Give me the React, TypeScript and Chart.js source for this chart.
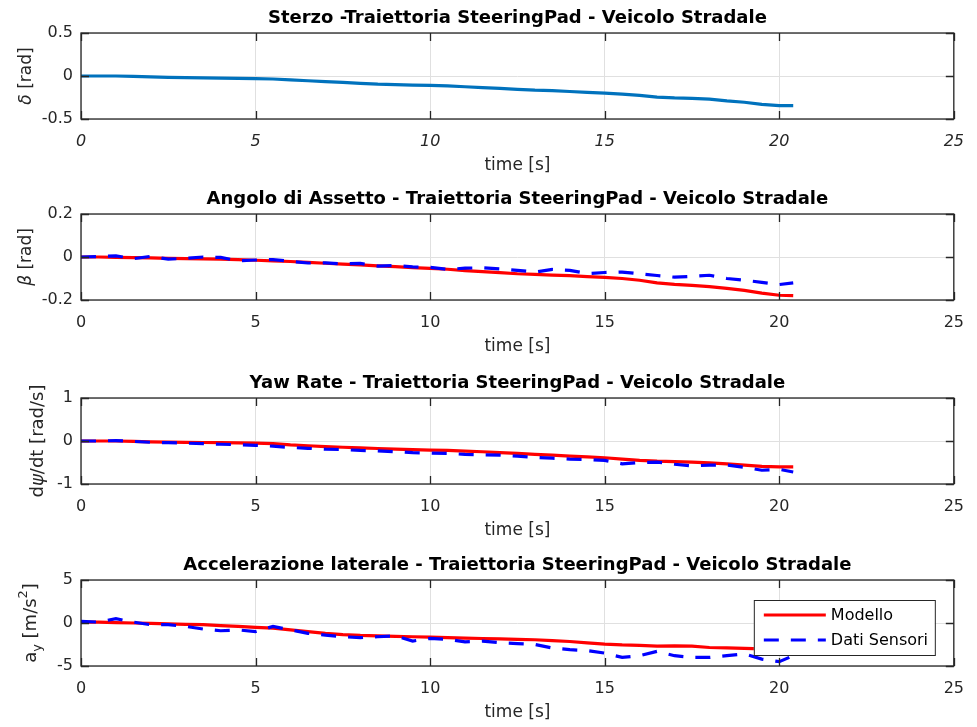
import React, { useEffect, useRef } from "react";
import { Chart, registerables } from "chart.js";

Chart.register(...registerables);

const FONT = "'DejaVu Sans', 'Liberation Sans', sans-serif";

// ---------------- DATA ----------------
const time = [0, 0.5, 1, 1.5, 2, 2.5, 3, 3.5, 4, 4.5, 5, 5.5, 6, 6.5, 7, 7.5, 8, 8.5, 9, 9.5, 10, 10.5, 11, 11.5, 12, 12.5, 13, 13.5, 14, 14.5, 15, 15.5, 16, 16.5, 17, 17.5, 18, 18.5, 19, 19.5, 20, 20.4];

const steer = [0, 0, 0, -0.005, -0.01, -0.015, -0.02, -0.022, -0.025, -0.028, -0.03, -0.035, -0.045, -0.055, -0.065, -0.075, -0.085, -0.095, -0.1, -0.105, -0.11, -0.115, -0.125, -0.135, -0.145, -0.155, -0.165, -0.17, -0.18, -0.19, -0.2, -0.21, -0.225, -0.245, -0.255, -0.26, -0.27, -0.29, -0.305, -0.33, -0.345, -0.345];

const betaModel = [0, 0, -0.002, -0.003, -0.004, -0.006, -0.008, -0.009, -0.01, -0.012, -0.015, -0.018, -0.021, -0.025, -0.029, -0.033, -0.037, -0.041, -0.045, -0.049, -0.053, -0.057, -0.063, -0.068, -0.073, -0.078, -0.081, -0.084, -0.087, -0.091, -0.095, -0.1, -0.108, -0.12, -0.127, -0.132, -0.138, -0.146, -0.155, -0.168, -0.178, -0.18];
const betaSensor = [0, 0.002, 0.005, -0.008, 0.003, -0.01, -0.006, 0, -0.002, -0.018, -0.014, -0.012, -0.02, -0.028, -0.027, -0.032, -0.03, -0.042, -0.04, -0.046, -0.048, -0.058, -0.052, -0.05, -0.055, -0.062, -0.07, -0.058, -0.062, -0.077, -0.072, -0.07, -0.078, -0.086, -0.094, -0.09, -0.085, -0.1, -0.108, -0.118, -0.128, -0.12];

const yawModel = [0, 0, 0, -0.01, -0.02, -0.025, -0.03, -0.035, -0.04, -0.045, -0.05, -0.06, -0.09, -0.11, -0.13, -0.145, -0.16, -0.175, -0.19, -0.2, -0.21, -0.22, -0.235, -0.25, -0.27, -0.29, -0.31, -0.33, -0.35, -0.37, -0.39, -0.42, -0.45, -0.47, -0.48, -0.49, -0.51, -0.53, -0.56, -0.59, -0.6, -0.6];
const yawSensor = [0, 0, 0.01, -0.01, -0.03, -0.04, -0.05, -0.06, -0.075, -0.085, -0.1, -0.12, -0.15, -0.17, -0.19, -0.2, -0.22, -0.23, -0.25, -0.27, -0.28, -0.29, -0.31, -0.32, -0.33, -0.35, -0.38, -0.4, -0.42, -0.43, -0.45, -0.53, -0.5, -0.49, -0.54, -0.58, -0.56, -0.56, -0.61, -0.68, -0.66, -0.72];

const ayModel = [0.1, 0.1, 0.05, 0, -0.05, -0.1, -0.15, -0.2, -0.3, -0.4, -0.5, -0.6, -0.8, -1.0, -1.2, -1.35, -1.45, -1.5, -1.55, -1.6, -1.65, -1.7, -1.75, -1.8, -1.85, -1.9, -1.95, -2.05, -2.15, -2.3, -2.45, -2.55, -2.6, -2.7, -2.65, -2.7, -2.85, -2.9, -2.95, -3.0, -3.05, -3.1];
const aySensor = [0.2, 0.1, 0.5, 0.1, -0.2, -0.2, -0.4, -0.7, -0.9, -0.8, -1.0, -0.4, -0.8, -1.2, -1.4, -1.6, -1.7, -1.6, -1.5, -2.1, -1.8, -1.9, -2.2, -2.1, -2.3, -2.4, -2.5, -2.9, -3.1, -3.2, -3.5, -4.0, -3.8, -3.3, -3.8, -4.0, -4.0, -3.8, -3.6, -4.2, -4.5, -3.8];

const xTicks = [0, 5, 10, 15, 20, 25];
const steerTicks = [-0.5, 0, 0.5];
const betaTicks = [-0.2, 0, 0.2];
const yawTicks = [-1, 0, 1];
const ayTicks = [-5, 0, 5];

const titles = [
  "Sterzo -Traiettoria SteeringPad - Veicolo Stradale",
  "Angolo di Assetto - Traiettoria SteeringPad - Veicolo Stradale",
  "Yaw Rate - Traiettoria SteeringPad - Veicolo Stradale",
  "Accelerazione laterale - Traiettoria SteeringPad - Veicolo Stradale",
];
const xLabel = "time [s]";
const seriesNames = ["Modello", "Dati Sensori"];

type Part = { text: string; italic?: boolean; sub?: boolean; sup?: boolean };
const yLabels: Part[][] = [
  [{ text: "δ", italic: true }, { text: " [rad]" }],
  [{ text: "β", italic: true }, { text: " [rad]" }],
  [{ text: "d" }, { text: "ψ", italic: true }, { text: "/dt [rad/s]" }],
  [{ text: "a" }, { text: "y", sub: true }, { text: " [m/s" }, { text: "2", sup: true }, { text: "]" }],
];

// ---------------- STYLE / LAYOUT ----------------
const CANVAS_W = 977;
const CANVAS_H = 179;
const COLORS = { steer: "#0072BD", model: "#FF0000", sensor: "#0000FF", axis: "#262626", grid: "#e0e0e0" };
const DASH = [15, 12];

type Series = { label: string; values: number[]; color: string; dash?: number[] };
type Spec = {
  top: number;
  title: string;
  yTicks: number[];
  series: Series[];
  yParts: Part[];
  yLabelX: number;
  yLabelSize: number;
  xItalic: boolean;
  legend: boolean;
};

const specs: Spec[] = [
  { top: 0, title: titles[0], yTicks: steerTicks, series: [{ label: "δ", values: steer, color: COLORS.steer }], yParts: yLabels[0], yLabelX: 27, yLabelSize: 17, xItalic: true, legend: false },
  { top: 181, title: titles[1], yTicks: betaTicks, series: [{ label: seriesNames[0], values: betaModel, color: COLORS.model }, { label: seriesNames[1], values: betaSensor, color: COLORS.sensor, dash: DASH }], yParts: yLabels[1], yLabelX: 27, yLabelSize: 17, xItalic: false, legend: false },
  { top: 365, title: titles[2], yTicks: yawTicks, series: [{ label: seriesNames[0], values: yawModel, color: COLORS.model }, { label: seriesNames[1], values: yawSensor, color: COLORS.sensor, dash: DASH }], yParts: yLabels[2], yLabelX: 38, yLabelSize: 18, xItalic: false, legend: false },
  { top: 547, title: titles[3], yTicks: ayTicks, series: [{ label: seriesNames[0], values: ayModel, color: COLORS.model }, { label: seriesNames[1], values: aySensor, color: COLORS.sensor, dash: DASH }], yParts: yLabels[3], yLabelX: 31, yLabelSize: 18, xItalic: false, legend: true },
];

// ---------------- PLUGINS ----------------
const boxPlugin = {
  id: "matlabBox",
  afterDatasetsDraw(chart: any) {
    const { ctx, chartArea: a, scales } = chart;
    ctx.save();
    ctx.strokeStyle = COLORS.axis;
    ctx.lineWidth = 1.3;
    ctx.strokeRect(a.left, a.top, a.right - a.left, a.bottom - a.top);
    const tl = 8;
    ctx.beginPath();
    for (const t of scales.x.ticks) {
      const px = Math.round(scales.x.getPixelForValue(t.value)) + 0.5;
      ctx.moveTo(px, a.top);
      ctx.lineTo(px, a.top + tl);
      ctx.moveTo(px, a.bottom);
      ctx.lineTo(px, a.bottom - tl);
    }
    for (const t of scales.y.ticks) {
      const py = Math.round(scales.y.getPixelForValue(t.value)) + 0.5;
      ctx.moveTo(a.left, py);
      ctx.lineTo(a.left + tl, py);
      ctx.moveTo(a.right, py);
      ctx.lineTo(a.right - tl, py);
    }
    ctx.stroke();
    ctx.restore();
  },
};

const yLabelPlugin = {
  id: "yLabel",
  afterDraw(chart: any, _args: any, opts: any) {
    const parts: Part[] = opts.parts || [];
    if (!parts.length) return;
    const { ctx, chartArea: a } = chart;
    const size = opts.size || 17;
    const fontOf = (p: Part) => `${p.italic ? "italic " : ""}${p.sub || p.sup ? size * 0.72 : size}px ${FONT}`;
    ctx.save();
    let total = 0;
    const widths = parts.map((p) => {
      ctx.font = fontOf(p);
      const w = ctx.measureText(p.text).width;
      total += w;
      return w;
    });
    ctx.translate(opts.x, (a.top + a.bottom) / 2);
    ctx.rotate(-Math.PI / 2);
    ctx.textBaseline = "middle";
    ctx.textAlign = "left";
    ctx.fillStyle = COLORS.axis;
    let x = -total / 2;
    parts.forEach((p, i) => {
      ctx.font = fontOf(p);
      const dy = p.sub ? size * 0.35 : p.sup ? -size * 0.42 : 0;
      ctx.fillText(p.text, x, dy);
      x += widths[i];
    });
    ctx.restore();
  },
};

const legendPlugin = {
  id: "boxLegend",
  afterDraw(chart: any, _args: any, opts: any) {
    if (!opts.show) return;
    const { ctx, chartArea: a } = chart;
    const w = 181;
    const h = 55;
    const left = a.right - 19 - w;
    const top = a.top + 20;
    ctx.save();
    ctx.fillStyle = "#ffffff";
    ctx.fillRect(left, top, w, h);
    ctx.strokeStyle = COLORS.axis;
    ctx.lineWidth = 1;
    ctx.strokeRect(left + 0.5, top + 0.5, w, h);
    ctx.font = `16px ${FONT}`;
    ctx.textBaseline = "middle";
    ctx.textAlign = "left";
    chart.data.datasets.forEach((ds: any, i: number) => {
      const y = top + 15 + i * 25;
      ctx.strokeStyle = ds.borderColor;
      ctx.lineWidth = ds.borderWidth;
      ctx.setLineDash(ds.borderDash || []);
      ctx.beginPath();
      ctx.moveTo(left + 10, y);
      ctx.lineTo(left + 72, y);
      ctx.stroke();
      ctx.setLineDash([]);
      ctx.fillStyle = "#000";
      ctx.fillText(ds.label, left + 77, y + 1);
    });
    ctx.restore();
  },
};

// ---------------- CHART ----------------
function makeConfig(s: Spec): any {
  const yMin = s.yTicks[0];
  const yMax = s.yTicks[s.yTicks.length - 1];
  return {
    type: "line",
    data: {
      datasets: s.series.map((ser, i) => ({
        label: ser.label,
        data: time.map((t, j) => ({ x: t, y: ser.values[j] })),
        borderColor: ser.color,
        backgroundColor: ser.color,
        borderWidth: 3.2,
        borderDash: ser.dash || [],
        pointRadius: 0,
        tension: 0,
        fill: false,
        order: s.series.length - i,
      })),
    },
    options: {
      responsive: false,
      animation: false,
      devicePixelRatio: 1,
      events: [],
      layout: { padding: { left: 0, right: 17, top: 0, bottom: 0 } },
      plugins: {
        legend: { display: false },
        tooltip: { enabled: false },
        title: {
          display: true,
          text: s.title,
          fullSize: false,
          color: "#000",
          font: { family: FONT, size: 18, weight: "bold", lineHeight: 1.2 },
          padding: { top: 8, bottom: 3.4 },
        },
        yLabel: { parts: s.yParts, x: s.yLabelX, size: s.yLabelSize },
        boxLegend: { show: s.legend },
      },
      scales: {
        x: {
          type: "linear",
          min: xTicks[0],
          max: xTicks[xTicks.length - 1],
          afterBuildTicks: (sc: any) => {
            sc.ticks = xTicks.map((v) => ({ value: v }));
          },
          afterFit: (sc: any) => {
            sc.height = 60;
          },
          grid: { color: COLORS.grid, drawTicks: false, lineWidth: 1 },
          border: { display: false },
          ticks: {
            autoSkip: false,
            maxRotation: 0,
            padding: 13,
            color: COLORS.axis,
            font: { family: FONT, size: 16, style: s.xItalic ? "italic" : "normal" },
            callback: (v: any) => String(v),
          },
          title: {
            display: true,
            text: xLabel,
            color: COLORS.axis,
            font: { family: FONT, size: 17, lineHeight: 1.2 },
            padding: { top: 0, bottom: 3 },
          },
        },
        y: {
          type: "linear",
          min: yMin,
          max: yMax,
          afterBuildTicks: (sc: any) => {
            sc.ticks = s.yTicks.map((v) => ({ value: v }));
          },
          afterFit: (sc: any) => {
            sc.width = 81;
          },
          grid: { color: COLORS.grid, drawTicks: false, lineWidth: 1 },
          border: { display: false },
          ticks: {
            autoSkip: false,
            padding: 8,
            color: COLORS.axis,
            font: { family: FONT, size: 16 },
            callback: (v: any) => String(v),
          },
        },
      },
    },
    plugins: [boxPlugin, yLabelPlugin, legendPlugin],
  };
}

function SubPlot({ spec }: { spec: Spec }) {
  const ref = useRef<HTMLCanvasElement | null>(null);
  useEffect(() => {
    if (!ref.current) return;
    const chart = new Chart(ref.current, makeConfig(spec));
    return () => chart.destroy();
  }, [spec]);
  return (
    <canvas
      ref={ref}
      width={CANVAS_W}
      height={CANVAS_H}
      style={{ position: "absolute", left: 0, top: spec.top, width: CANVAS_W, height: CANVAS_H, display: "block" }}
    />
  );
}

export default function App() {
  return (
    <div style={{ position: "fixed", left: 0, top: 0, width: 977, height: 727, overflow: "hidden", background: "#ffffff" }}>
      {specs.map((s, i) => (
        <SubPlot key={i} spec={s} />
      ))}
    </div>
  );
}
